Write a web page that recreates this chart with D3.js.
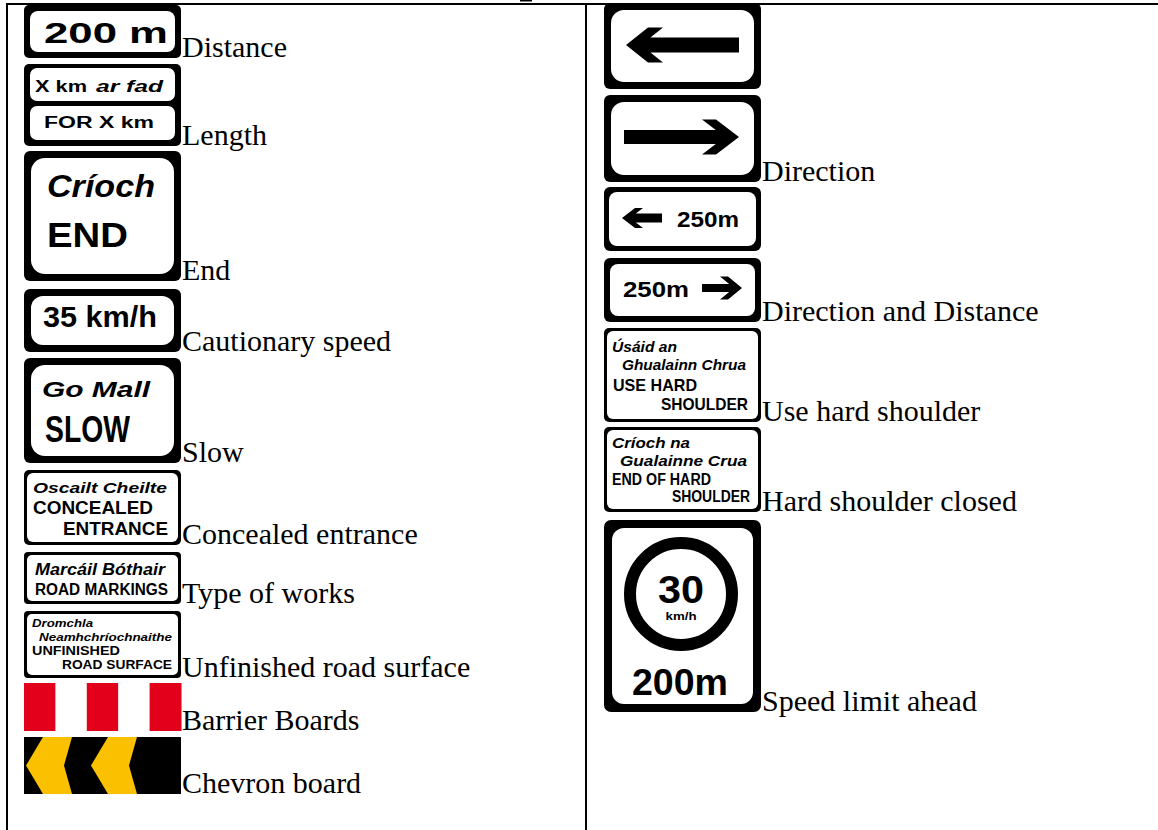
<!DOCTYPE html>
<html><head><meta charset="utf-8">
<script src="https://cdn.jsdelivr.net/npm/d3@7"></script>
<style>html,body{margin:0;padding:0;background:#fff;} svg{display:block;}</style>
</head><body><svg id="c" width="1158" height="830"></svg>
<script>
// ---------- data ----------
const leftLabels = ["Distance","Length","End","Cautionary speed","Slow","Concealed entrance","Type of works","Unfinished road surface","Barrier Boards","Chevron board"];
const leftKinds = ["plate","double","plate","plate","plate","plate","plate","plate","barrier","chevron"];
const leftSignText = [["200 m"],["X km","ar fad","FOR X km"],["Críoch","END"],["35 km/h"],["Go Mall","SLOW"],["Oscailt Cheilte","CONCEALED","ENTRANCE"],["Marcáil Bóthair","ROAD MARKINGS"],["Dromchla","Neamhchríochnaithe","UNFINISHED","ROAD SURFACE"],[],[]];
const rightLabels = ["","Direction","","Direction and Distance","Use hard shoulder","Hard shoulder closed","Speed limit ahead"];
const rightKinds = ["arrow","arrow","arrowDist","arrowDist","plate","plate","speed"];
const rightSignText = [[],[],["250m"],["250m"],["Úsáid an","Ghualainn Chrua","USE HARD","SHOULDER"],["Críoch na","Gualainne Crua","END OF HARD","SHOULDER"],["30","km/h","200m"]];

// ---------- layout (positions / sizes / styles) ----------
const SW = 157;
const COLS = {
  left:  {x:24,  labelX:182, tops:[5,64,151,289,358,470,552,611,683,737], hs:[53,82,130,63,105,75,52,67,48,57]},
  right: {x:604, labelX:762, tops:[3,95,187,258,328,427,520], hs:[86,87,64,64,94,85,192]}
};
const LEFT_STYLE = [
  {frame:{b:6,ro:5,ri:8},  lines:[{x:20,y:38,s:29,len:124}]},
  {lines:[{x:11,y:28,s:16,len:52},{x:72,y:28,s:16,len:67,it:1},{x:20,y:64,s:16,len:110}]},
  {frame:{b:7,ro:6,ri:14}, lines:[{x:23,y:46,s:31,len:108,it:1},{x:23,y:96,s:35,len:81}]},
  {frame:{b:7,ro:6,ri:12}, lines:[{x:19,y:38,s:30,len:114}]},
  {frame:{b:7,ro:6,ri:14}, lines:[{x:18,y:39,s:22,len:108,it:1},{x:21,y:84,s:36,len:85}]},
  {frame:{b:3,ro:5,ri:6},  lines:[{x:9,y:23,s:15,len:134,it:1},{x:9,y:44,s:19,len:120},{x:39,y:65,s:19,len:105}]},
  {frame:{b:3,ro:4,ri:5},  lines:[{x:11,y:23,s:16,len:130,it:1},{x:11,y:43,s:16,len:133}]},
  {frame:{b:3,ro:4,ri:5},  lines:[{x:8,y:16,s:11,len:61,it:1},{x:15,y:30,s:11,len:133,it:1},{x:8,y:44,s:13,len:88},{x:38,y:58,s:13,len:110}]},
  {},
  {chev:{top0:19,topW:29,tip:2,notch:40,step:65}}
];
const RIGHT_STYLE = [
  {frame:{b:7,ro:6,ri:13}, arrow:{tip:22,cy:42,dir:-1,L:113,th:15,hl:22,hh:35,bw:15}},
  {frame:{b:7,ro:6,ri:13}, arrow:{tip:135,cy:42,dir:1,L:115,th:14,hl:23,hh:35,bw:14}},
  {frame:{b:5,ro:6,ri:8},  arrow:{tip:18,cy:31,dir:-1,L:40,th:9,hl:13,hh:20,bw:8}, lines:[{x:73,y:40,s:22,len:62}]},
  {frame:{b:6,ro:6,ri:8},  arrow:{tip:138,cy:30,dir:1,L:40,th:8,hl:14,hh:23,bw:8}, lines:[{x:19,y:39,s:22,len:66}]},
  {frame:{b:3,ro:5,ri:6},  lines:[{x:8,y:24,s:15,len:65,it:1},{x:18,y:42,s:15,len:124,it:1},{x:9,y:63,s:17,len:84},{x:57,y:82,s:17,len:87}]},
  {frame:{b:3,ro:5,ri:6},  lines:[{x:8,y:21,s:15,len:78,it:1},{x:16,y:39,s:15,len:127,it:1},{x:8,y:58,s:16,len:99},{x:68,y:75,s:16,len:78}]},
  {frame:{b:8,ro:7,ri:12}, ring:{cx:77,cy:74,r:51,w:12}, lines:[{x:77,y:83,s:38,len:46,mid:1},{x:77,y:100,s:10,len:31,mid:1},{x:76,y:175,s:37,len:96,mid:1}]}
];
const RED = "#e2001a", YELLOW = "#fbc100", INK = "#000";
const SIGN_FONT = "'Liberation Sans', Arial, sans-serif";
const LABEL_FONT = "'Liberation Serif', 'Times New Roman', serif";

// ---------- drawing ----------
const svg = d3.select("#c");
svg.append("rect").attr("width",1158).attr("height",830).attr("fill","#fff");

function frame(g, h, f){
  g.append("rect").attr("width",SW).attr("height",h).attr("rx",f.ro).attr("fill",INK);
  g.append("rect").attr("x",f.b).attr("y",f.b).attr("width",SW-2*f.b).attr("height",h-2*f.b).attr("rx",f.ri).attr("fill","#fff");
}
function txt(g, s, o){
  const t = g.append("text").attr("x",o.x).attr("y",o.y)
    .attr("font-family",SIGN_FONT).attr("font-weight","bold").attr("font-size",o.s).attr("fill",INK).text(s);
  if (o.it) t.attr("font-style","italic");
  if (o.mid) t.attr("text-anchor","middle");
  if (o.len) t.attr("textLength",o.len).attr("lengthAdjust","spacingAndGlyphs");
  return t;
}
function arrowPath(a){
  const h2=a.hh/2, s2=a.th/2;
  const jx = a.hl + a.bw - a.hl*(h2-s2)/h2;
  const pts=[[0,0],[a.hl,-h2],[a.hl+a.bw,-h2],[jx,-s2],[a.L,-s2],[a.L,s2],[jx,s2],[a.hl+a.bw,h2],[a.hl,h2]];
  return d3.line()(pts.map(([x,y])=>[a.tip - a.dir*x, a.cy + y])) + "Z";
}

const drawers = {
  plate(g, d){
    frame(g, d.h, d.st.frame);
    d.lines.forEach((s,i)=>txt(g, s, d.st.lines[i]));
  },
  double(g, d){
    g.append("rect").attr("width",SW).attr("height",d.h).attr("rx",5).attr("fill",INK);
    const split = Math.round(d.h*0.47);
    g.append("rect").attr("x",6).attr("y",4).attr("width",SW-12).attr("height",split-6).attr("rx",7).attr("fill","#fff");
    g.append("rect").attr("x",6).attr("y",split+3).attr("width",SW-12).attr("height",d.h-split-9).attr("rx",7).attr("fill","#fff");
    d.lines.forEach((s,i)=>txt(g, s, d.st.lines[i]));
  },
  barrier(g, d){
    const x = d3.scaleBand().domain(d3.range(5)).range([0,SW]);
    g.selectAll("rect.bar").data(d3.range(5)).join("rect").attr("class","bar")
      .attr("x",i=>x(i)).attr("y",0).attr("width",x.bandwidth()+0.5).attr("height",d.h)
      .attr("fill",i=>i%2?"#fff":RED);
  },
  chevron(g, d){
    g.append("rect").attr("width",SW).attr("height",d.h).attr("fill",INK);
    const h=d.h, m=h/2, c=d.st.chev;
    [0,c.step].forEach(o=>{
      g.append("path").attr("fill",YELLOW)
        .attr("d", d3.line()([[c.top0+o,0],[c.top0+c.topW+o,0],[c.notch+o,m],[c.top0+c.topW+o,h],[c.top0+o,h],[c.tip+o,m]])+"Z");
    });
  },
  arrow(g, d){
    frame(g, d.h, d.st.frame);
    g.append("path").attr("d",arrowPath(d.st.arrow)).attr("fill",INK);
  },
  arrowDist(g, d){
    frame(g, d.h, d.st.frame);
    g.append("path").attr("d",arrowPath(d.st.arrow)).attr("fill",INK);
    d.lines.forEach((s,i)=>txt(g, s, d.st.lines[i]));
  },
  speed(g, d){
    frame(g, d.h, d.st.frame);
    const r=d.st.ring;
    g.append("circle").attr("cx",r.cx).attr("cy",r.cy).attr("r",r.r).attr("fill","none").attr("stroke",INK).attr("stroke-width",r.w);
    d.lines.forEach((s,i)=>txt(g, s, d.st.lines[i]));
  }
};

function drawColumn(key, labels, kinds, texts, styles){
  const col = COLS[key];
  const rowTop = d3.scaleOrdinal().domain(d3.range(labels.length)).range(col.tops);
  const rows = labels.map((label,i)=>({label, kind:kinds[i], lines:texts[i], st:styles[i], i, h:col.hs[i]}));
  svg.selectAll("g.sign-"+key).data(rows).join("g").attr("class","sign-"+key)
    .attr("transform",d=>`translate(${col.x},${rowTop(d.i)})`)
    .each(function(d){ drawers[d.kind](d3.select(this), d); });
  svg.selectAll("text.label-"+key).data(rows.filter(d=>d.label)).join("text").attr("class","label-"+key)
    .attr("x",col.labelX).attr("y",d=>rowTop(d.i)+d.h-1.5)
    .attr("font-family",LABEL_FONT).attr("font-size",30).attr("fill",INK).text(d=>d.label);
}
drawColumn("left", leftLabels, leftKinds, leftSignText, LEFT_STYLE);
drawColumn("right", rightLabels, rightKinds, rightSignText, RIGHT_STYLE);

// table rules
svg.append("rect").attr("x",6).attr("y",3).attr("width",1152).attr("height",2).attr("fill",INK);
svg.append("rect").attr("x",6).attr("y",3).attr("width",2).attr("height",827).attr("fill",INK);
svg.append("rect").attr("x",585).attr("y",3).attr("width",2).attr("height",827).attr("fill",INK);
svg.append("rect").attr("x",520).attr("y",0).attr("width",12).attr("height",1.5).attr("fill",INK);
</script></body></html>
